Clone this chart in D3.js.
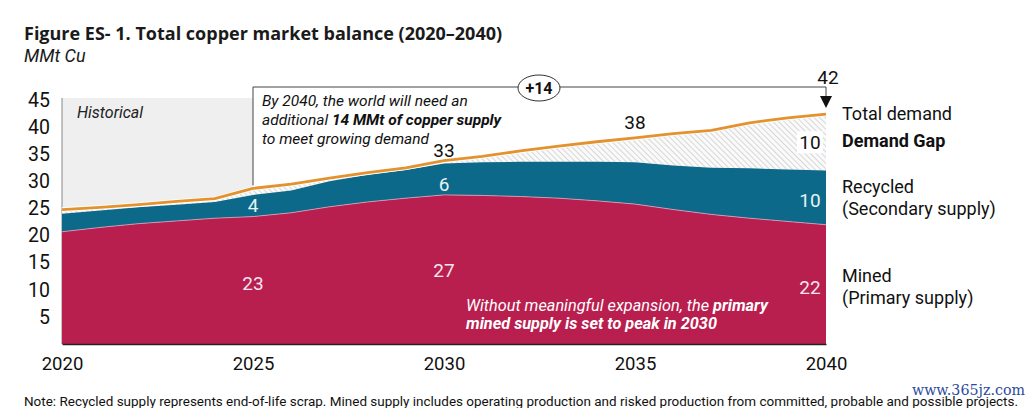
<!DOCTYPE html>
<html>
<head>
<meta charset="utf-8">
<script src="https://cdn.jsdelivr.net/npm/d3@7"></script>
<style>
  body { margin: 0; background: #fff; }
  svg { font-family: Roboto, "Open Sans", sans-serif; }
</style>
</head>
<body>
<div id="chart"></div>
<script>
// values, MMt Cu
const years = d3.range(2020, 2041);
const mined = [20.7, 21.5, 22.2, 22.7, 23.2, 23.5, 24.2, 25.3, 26.2, 26.9, 27.5,
               27.4, 27.2, 26.9, 26.4, 25.8, 24.8, 23.9, 23.2, 22.6, 22.0];
const recycled = [3.3, 3.1, 3.0, 3.0, 3.0, 4.0, 4.1, 4.7, 5.0, 5.2, 5.8,
                  6.1, 6.4, 6.7, 7.2, 7.7, 8.1, 8.6, 9.2, 9.6, 10.0];
const demand = [24.8, 25.2, 25.7, 26.3, 26.8, 28.7, 29.5, 30.6, 31.6, 32.5, 33.8,
                34.6, 35.6, 36.5, 37.3, 38.0, 38.8, 39.4, 40.8, 41.7, 42.4];
const yTicks = [5, 10, 15, 20, 25, 30, 35, 40, 45];
const xTicks = [2020, 2025, 2030, 2035, 2040];

// labels printed in the chart
const minedLabels = [{year: 2025, v: 23, at: 11.2}, {year: 2030, v: 27, at: 13.6}, {year: 2040, v: 22, at: 10.4}];
const recycledLabels = [{year: 2025, v: 4, at: 25.5}, {year: 2030, v: 6, at: 29.5}, {year: 2040, v: 10, at: 26.5}];
const demandLabels = [{year: 2030, v: 33, at: 35.7}, {year: 2035, v: 38, at: 40.8}];
const gapLabels = [{year: 2040, v: 10, at: 37.2}];
const totalLabel = 42;
const gapTotal = "+14";
const legendLabels = [
  {lines: ["Total demand"], at: 42.5, bold: false},
  {lines: ["Demand Gap"], at: 37.4, bold: true},
  {lines: ["Recycled", "(Secondary supply)"], at: 28.9, bold: false},
  {lines: ["Mined", "(Primary supply)"], at: 12.6, bold: false}
];

const data = years.map((yr, i) => ({
  year: yr,
  mined: mined[i],
  supply: mined[i] + recycled[i],
  demand: demand[i]
}));

const W = 1031, H = 408;
const svg = d3.select("#chart").append("svg")
    .attr("width", W)
    .attr("height", H);

const x = d3.scaleLinear().domain([2020, 2040]).range([62, 826]);
const y = d3.scaleLinear().domain([0, 45]).range([344, 100]);

const red = "#b81e4e", teal = "#0c6989", orange = "#e3922e";

// hatch for the demand gap
const defs = svg.append("defs");
const pat = defs.append("pattern")
    .attr("id", "hatch")
    .attr("patternUnits", "userSpaceOnUse")
    .attr("width", 4)
    .attr("height", 4)
    .attr("patternTransform", "rotate(-45)");
pat.append("rect").attr("width", 4).attr("height", 4).attr("fill", "#fafafa");
pat.append("line")
    .attr("x1", 0).attr("y1", 0).attr("x2", 0).attr("y2", 4)
    .attr("stroke", "#cfcfcf")
    .attr("stroke-width", 1.6);

// title
svg.append("text")
    .attr("x", 24).attr("y", 40)
    .attr("font-size", 18).attr("font-weight", "bold")
    .attr("font-family", "'Open Sans', sans-serif")
    .attr("fill", "#1a1a1a")
    .text("Figure ES- 1. Total copper market balance (2020\u20132040)");
svg.append("text")
    .attr("x", 24).attr("y", 62)
    .attr("font-size", 18).attr("font-style", "italic")
    .attr("fill", "#1a1a1a")
    .text("MMt Cu");

// historical shading
svg.append("rect")
    .attr("x", x(2020)).attr("y", y(45) - 2)
    .attr("width", x(2025) - x(2020))
    .attr("height", y(0) - y(45) + 2)
    .attr("fill", "#efefef");
svg.append("text")
    .attr("x", 77).attr("y", 118)
    .attr("font-size", 16).attr("font-style", "italic")
    .attr("fill", "#222")
    .text("Historical");

// left border
svg.append("line")
    .attr("x1", x(2020)).attr("x2", x(2020))
    .attr("y1", y(45) - 2).attr("y2", y(0))
    .attr("stroke", "#888").attr("stroke-width", 1);

// areas
svg.append("path")
    .datum(data)
    .attr("fill", "url(#hatch)")
    .attr("d", d3.area().x(d => x(d.year)).y0(d => y(d.supply)).y1(d => y(d.demand)));

svg.append("path")
    .datum(data)
    .attr("fill", teal)
    .attr("d", d3.area().x(d => x(d.year)).y0(d => y(d.mined)).y1(d => y(d.supply)));

svg.append("path")
    .datum(data)
    .attr("fill", red)
    .attr("d", d3.area().x(d => x(d.year)).y0(y(0)).y1(d => y(d.mined)));

svg.append("path")
    .datum(data)
    .attr("fill", "none")
    .attr("stroke", "#d7a7bf")
    .attr("stroke-width", 0.8)
    .attr("d", d3.line().x(d => x(d.year)).y(d => y(d.mined)));

const demandLine = d3.line().x(d => x(d.year)).y(d => y(d.demand));
svg.append("path")
    .datum(data)
    .attr("fill", "none")
    .attr("stroke", "#fff")
    .attr("stroke-width", 4.5)
    .attr("d", demandLine);
svg.append("path")
    .datum(data)
    .attr("fill", "none")
    .attr("stroke", orange)
    .attr("stroke-width", 2.8)
    .attr("stroke-linejoin", "round")
    .attr("d", demandLine);

// x axis
const xAxis = svg.append("g")
    .attr("transform", `translate(0, ${y(0)})`)
    .call(d3.axisBottom(x).tickValues(xTicks).tickFormat(d3.format("d")).tickSize(0).tickPadding(13));
xAxis.select(".domain").attr("stroke", "#222").attr("stroke-width", 1.5);
xAxis.selectAll("text").attr("font-size", 18.5).attr("fill", "#111").attr("font-family", "Roboto, sans-serif");

// y axis labels
const yAxis = svg.append("g")
    .attr("transform", "translate(50, 0)")
    .call(d3.axisLeft(y).tickValues(yTicks).tickSize(0).tickPadding(0));
yAxis.select(".domain").remove();
yAxis.selectAll("text").attr("font-size", 19.5).attr("fill", "#111").attr("font-family", "Roboto, sans-serif");

// annotation box
const d25 = demand[years.indexOf(2025)];
const topY = 87;
svg.append("path")
    .attr("d", `M${x(2025)},${y(d25) - 3}V${topY}H${x(2040)}V${y(45) - 3}`)
    .attr("fill", "none")
    .attr("stroke", "#444")
    .attr("stroke-width", 1);
svg.append("path")
    .attr("d", `M${x(2040) - 6},${y(45) - 4}L${x(2040) + 6},${y(45) - 4}L${x(2040)},${y(45) + 8}Z`)
    .attr("fill", "#111");
svg.append("rect")
    .attr("x", x(2025) + 1).attr("y", topY + 1)
    .attr("width", 262).attr("height", 58)
    .attr("fill", "#fff");

const note = svg.append("text")
    .attr("font-size", 15.5).attr("font-style", "italic").attr("fill", "#111");
note.append("tspan").attr("x", 262).attr("y", 106).text("By 2040, the world will need an");
const l2 = note.append("tspan").attr("x", 262).attr("y", 125);
l2.append("tspan").text("additional ");
l2.append("tspan").attr("font-weight", "bold").text("14 MMt of copper supply");
note.append("tspan").attr("x", 262).attr("y", 144).text("to meet growing demand");

svg.append("ellipse")
    .attr("cx", 539).attr("cy", topY + 1)
    .attr("rx", 21).attr("ry", 13)
    .attr("fill", "#fff").attr("stroke", "#333").attr("stroke-width", 1);
svg.append("text")
    .attr("x", 539).attr("y", topY + 7)
    .attr("text-anchor", "middle")
    .attr("font-size", 16).attr("font-weight", "bold").attr("fill", "#111")
    .text(gapTotal);
svg.append("text")
    .attr("x", x(2040) + 2).attr("y", 84)
    .attr("text-anchor", "middle")
    .attr("font-size", 19).attr("fill", "#111")
    .text(totalLabel);

// value labels
const valueLabel = (arr, color, bg) => {
  arr.forEach(d => {
    const tx = d.year === 2040 ? x(d.year) - 16 : x(d.year);
    if (bg) {
      svg.append("rect")
          .attr("x", tx - 13).attr("y", y(d.at) - 11)
          .attr("width", 26).attr("height", 22)
          .attr("fill", bg);
    }
    svg.append("text")
        .attr("x", tx).attr("y", y(d.at))
        .attr("dy", "0.35em")
        .attr("text-anchor", "middle")
        .attr("font-size", 19).attr("fill", color)
        .text(d.v);
  });
};
valueLabel(minedLabels, "#f6e6ee");
valueLabel(recycledLabels, "#e6f3f7");
valueLabel(demandLabels, "#111");
valueLabel(gapLabels, "#111", "#fff");

// mined note
const mn = svg.append("text")
    .attr("font-size", 16.3).attr("font-style", "italic").attr("fill", "#fff");
const m1 = mn.append("tspan").attr("x", 466).attr("y", 311);
m1.append("tspan").text("Without meaningful expansion, the ");
m1.append("tspan").attr("font-weight", "bold").text("primary");
mn.append("tspan").attr("x", 466).attr("y", 329).attr("font-weight", "bold")
    .text("mined supply is set to peak in 2030");

// series labels on the right
legendLabels.forEach(d => {
  const t = svg.append("text")
      .attr("font-size", 18).attr("fill", "#111")
      .attr("font-weight", d.bold ? "bold" : "normal");
  d.lines.forEach((ln, i) => {
    t.append("tspan").attr("x", 842).attr("y", y(d.at) + 6 + i * 22).text(ln);
  });
});

// footnote + watermark
svg.append("text")
    .attr("x", 912).attr("y", 395)
    .attr("font-size", 14).attr("fill", "#2b4c9c")
    .attr("font-family", "DejaVu Serif, serif")
    .attr("textLength", 113).attr("lengthAdjust", "spacingAndGlyphs")
    .text("www.365jz.com");
svg.append("text")
    .attr("x", 24).attr("y", 406)
    .attr("font-size", 12.5).attr("fill", "#111")
    .attr("textLength", 994).attr("lengthAdjust", "spacingAndGlyphs")
    .text("Note: Recycled supply represents end-of-life scrap. Mined supply includes operating production and risked production from committed, probable and possible projects.");
</script>
</body>
</html>
